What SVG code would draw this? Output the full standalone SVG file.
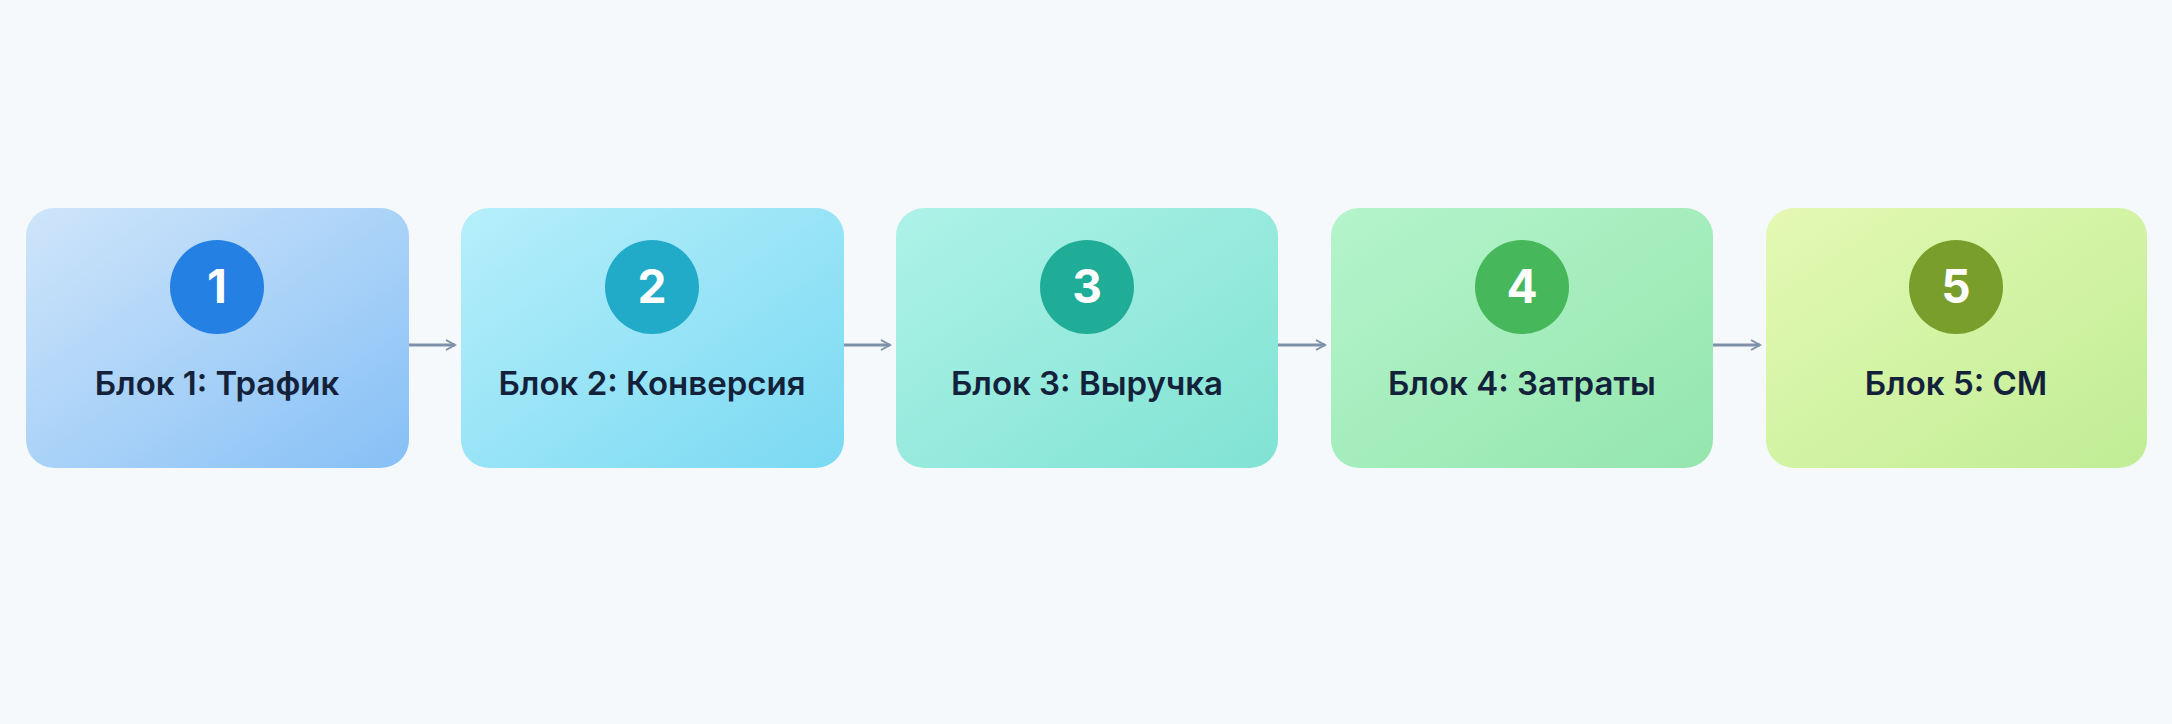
<svg xmlns="http://www.w3.org/2000/svg" width="2172" height="724" viewBox="0 0 2172 724">
<defs>
<linearGradient id="g1" x1="0" y1="0" x2="1" y2="1"><stop offset="0" stop-color="#cfe5fa"/><stop offset="1" stop-color="#86c0f6"/></linearGradient>
<linearGradient id="g2" x1="0" y1="0" x2="1" y2="1"><stop offset="0" stop-color="#b6effb"/><stop offset="1" stop-color="#7ad9f2"/></linearGradient>
<linearGradient id="g3" x1="0" y1="0" x2="1" y2="1"><stop offset="0" stop-color="#aef2e8"/><stop offset="1" stop-color="#80e3d3"/></linearGradient>
<linearGradient id="g4" x1="0" y1="0" x2="1" y2="1"><stop offset="0" stop-color="#b5f4cc"/><stop offset="1" stop-color="#94e6ad"/></linearGradient>
<linearGradient id="g5" x1="0" y1="0" x2="1" y2="1"><stop offset="0" stop-color="#e4f9b2"/><stop offset="1" stop-color="#c0ed96"/></linearGradient>
<marker id="ah" viewBox="0 0 12 12" refX="10" refY="6" markerWidth="12" markerHeight="12" markerUnits="userSpaceOnUse"><path d="M1 1 L10 6 L1 11" fill="none" stroke="#7d92a8" stroke-width="2"/></marker>
</defs>
<style>
.lbl{font-family:Inter,"Liberation Sans",sans-serif;font-weight:600;font-size:33px;fill:#13223a;text-anchor:middle}
.num{font-family:Inter,"Liberation Sans",sans-serif;font-weight:700;font-size:46px;fill:#fff;text-anchor:middle}
.con{stroke:#7d92a8;stroke-width:3;fill:none;marker-end:url(#ah)}
</style>
<rect width="2172" height="724" fill="#f6f9fc"/>
<g id="n1"><rect x="26" y="208" width="383" height="260" rx="28" fill="url(#g1)"/><circle cx="217" cy="287" r="47" fill="#2480e2"/><text class="num" x="217" y="303">1</text><text class="lbl" x="217" y="395">Блок 1: Трафик</text></g>
<g id="n2"><rect x="461" y="208" width="383" height="260" rx="28" fill="url(#g2)"/><circle cx="652" cy="287" r="47" fill="#21abc9"/><text class="num" x="652" y="303">2</text><text class="lbl" x="652" y="395">Блок 2: Конверсия</text></g>
<g id="n3"><rect x="896" y="208" width="382" height="260" rx="28" fill="url(#g3)"/><circle cx="1087" cy="287" r="47" fill="#20ad98"/><text class="num" x="1087" y="303">3</text><text class="lbl" x="1087" y="395">Блок 3: Выручка</text></g>
<g id="n4"><rect x="1331" y="208" width="382" height="260" rx="28" fill="url(#g4)"/><circle cx="1522" cy="287" r="47" fill="#46b75a"/><text class="num" x="1522" y="303">4</text><text class="lbl" x="1522" y="395">Блок 4: Затраты</text></g>
<g id="n5"><rect x="1766" y="208" width="381" height="260" rx="28" fill="url(#g5)"/><circle cx="1956" cy="287" r="47" fill="#799e2b"/><text class="num" x="1956" y="303">5</text><text class="lbl" x="1956" y="395">Блок 5: СМ</text></g>
<g id="connectors">
<line class="con" x1="409" y1="345" x2="455" y2="345"/>
<line class="con" x1="844" y1="345" x2="890" y2="345"/>
<line class="con" x1="1278" y1="345" x2="1325" y2="345"/>
<line class="con" x1="1713" y1="345" x2="1760" y2="345"/>
</g>
</svg>
